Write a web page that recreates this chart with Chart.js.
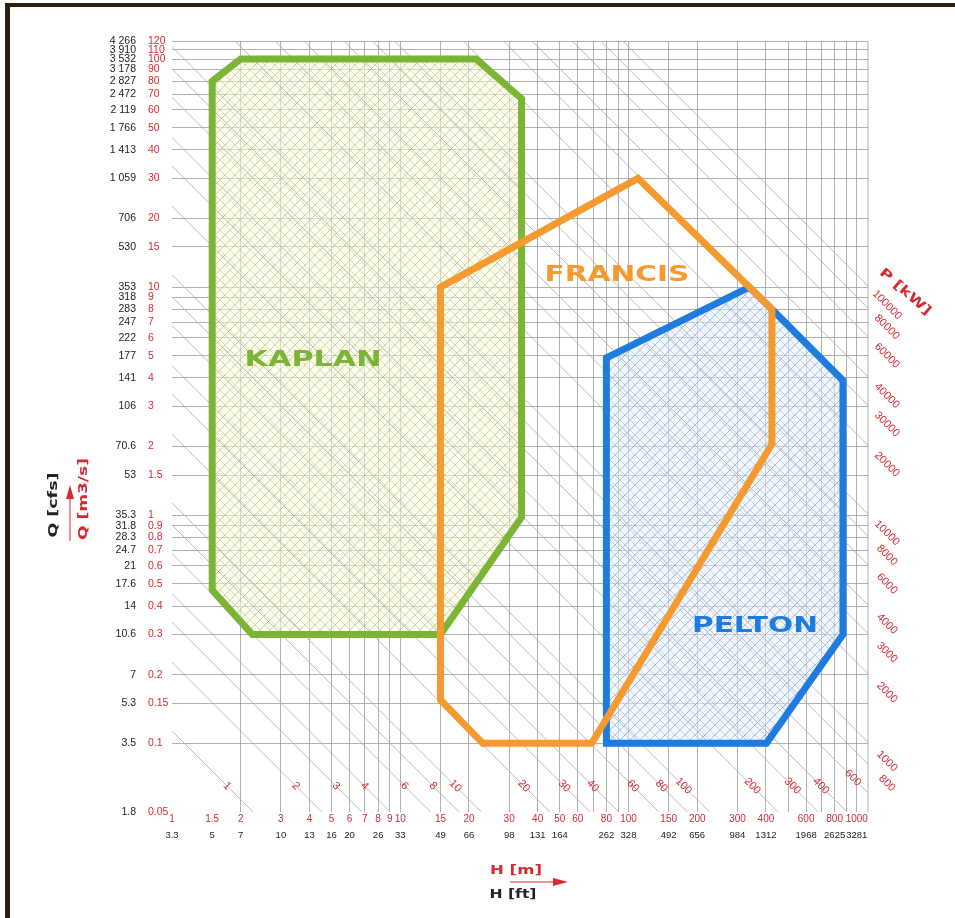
<!DOCTYPE html>
<html>
<head>
<meta charset="utf-8">
<title>Turbine application chart</title>
<script src="https://cdn.jsdelivr.net/npm/chart.js@4.4.0/dist/chart.umd.min.js"></script>
<style>
  html, body { margin: 0; padding: 0; background: #fff; }
  #wrap { position: relative; width: 955px; height: 918px; overflow: hidden; }
  #frame { position: absolute; left: 5px; top: 3px; width: 960px; height: 930px;
           border-top: 4px solid #2d1e12; border-left: 5px solid #2d1e12; }
  #chart { position: absolute; left: 0; top: 0; }
</style>
</head>
<body>
<div id="wrap">
  <div id="frame"></div>
  <canvas id="chart" width="955" height="918"></canvas>
</div>
<script>
// Q [m3/s] ticks and the cfs labels beside them
const qTicks = [120, 110, 100, 90, 80, 70, 60, 50, 40, 30, 20, 15, 10, 9, 8, 7, 6, 5, 4, 3, 2, 1.5,
                1, 0.9, 0.8, 0.7, 0.6, 0.5, 0.4, 0.3, 0.2, 0.15, 0.1, 0.05];
const cfsLabels = ['4 266', '3 910', '3 532', '3 178', '2 827', '2 472', '2 119', '1 766', '1 413', '1 059',
                   '706', '530', '353', '318', '283', '247', '222', '177', '141', '106', '70.6', '53',
                   '35.3', '31.8', '28.3', '24.7', '21', '17.6', '14', '10.6', '7', '5.3', '3.5', '1.8'];

// H [m] ticks, grid lines without label, and the ft row
const hTicks = [1, 1.5, 2, 3, 4, 5, 6, 7, 8, 9, 10, 15, 20, 30, 40, 50, 60, 80, 100, 150, 200, 300, 400, 600, 800, 1000];
const hGridExtra = [70, 90, 500, 700, 900];
const ftTicks = [1, 1.5, 2, 3, 4, 5, 6, 8, 10, 15, 20, 30, 40, 50, 80, 100, 150, 200, 300, 400, 600, 800, 1000];
const ftLabels = ['3.3', '5', '7', '10', '13', '16', '20', '26', '33', '49', '66', '98', '131', '164',
                  '262', '328', '492', '656', '984', '1312', '1968', '2625', '3281'];

// iso power lines P [kW]
const pBottom = [1, 2, 3, 4, 6, 8, 10, 20, 30, 40, 60, 80, 100, 200, 300, 400, 600];
const pRight = [800, 1000, 2000, 3000, 4000, 6000, 8000, 10000, 20000, 30000, 40000, 60000, 80000, 100000];

// turbine ranges (H [m], Q [m3/s])
const kaplanH = [1.5, 1.5, 2, 21.5, 34, 34, 15, 2.25, 1.5];
const kaplanQ = [0.47, 80, 100, 100, 67, 0.98, 0.3, 0.3, 0.47];
const francisH = [15, 110, 425, 425, 69, 23, 15, 15];
const francisQ = [10, 30, 8, 2.05, 0.1, 0.1, 0.155, 10];
const peltonH = [80, 338, 425, 870, 870, 402, 80, 80];
const peltonQ = [4.9, 10, 8, 3.9, 0.3, 0.1, 0.1, 4.9];

const k = 9.81 * 0.9; // P = k * Q * H

const RED = '#d62a30';
const INK = '#222';
const GRID = '#9c9c9c';
const GREEN = '#7cb536';
const ORANGE = '#f49a2e';
const BLUE = '#1e7be0';
const tickFont = { family: 'Liberation Sans', size: 10.5 };
const xFont = { family: 'Liberation Sans', size: 10 };
const ftFont = { family: 'Liberation Sans', size: 9.5 };

const ctx = document.getElementById('chart').getContext('2d');

function hatch(bg, fwd, back) {
  const s = 10;
  const cv = document.createElement('canvas');
  cv.width = s; cv.height = s;
  const g = cv.getContext('2d');
  g.fillStyle = bg;
  g.fillRect(0, 0, s, s);
  g.lineWidth = 0.8;
  g.strokeStyle = fwd;
  g.beginPath();
  g.moveTo(-1, s + 1); g.lineTo(s + 1, -1);
  g.moveTo(-1, 1); g.lineTo(1, -1);
  g.moveTo(s - 1, s + 1); g.lineTo(s + 1, s - 1);
  g.stroke();
  g.strokeStyle = back;
  g.beginPath();
  g.moveTo(-1, -1); g.lineTo(s + 1, s + 1);
  g.moveTo(s - 1, -1); g.lineTo(s + 1, 1);
  g.moveTo(-1, s - 1); g.lineTo(1, s + 1);
  g.stroke();
  return ctx.createPattern(cv, 'repeat');
}

function pts(hs, qs) {
  return hs.map((h, i) => ({ x: h, y: qs[i] }));
}

function outline(label, hs, qs, color, bg) {
  return {
    label: label,
    data: pts(hs, qs),
    showLine: true,
    borderColor: color,
    borderWidth: 7,
    borderCapStyle: 'round',
    pointRadius: 0,
    fill: bg ? 'shape' : false,
    backgroundColor: bg || 'rgba(0,0,0,0)',
    xAxisID: 'x',
    yAxisID: 'y'
  };
}

const pLines = pBottom.concat(pRight).map(p => ({
  label: 'P ' + p,
  data: [{ x: 0.5, y: p / (k * 0.5) }, { x: 3000, y: p / (k * 3000) }],
  showLine: true,
  borderColor: '#a9a9a9',
  borderWidth: 0.8,
  pointRadius: 0,
  fill: false,
  xAxisID: 'x',
  yAxisID: 'y'
}));

const names = [
  { text: 'KAPLAN', h: 4.15, q: 4.8, color: GREEN, width: 137 },
  { text: 'FRANCIS', h: 89, q: 11.3, color: ORANGE, width: 145 },
  { text: 'PELTON', h: 358, q: 0.327, color: BLUE, width: 126 }
];

function drawText(c, text, x, y, angle, font, color, width) {
  c.save();
  c.translate(x, y);
  c.rotate(angle);
  c.font = font;
  c.fillStyle = color;
  c.textAlign = 'center';
  c.textBaseline = 'middle';
  if (width) {
    c.scale(width / c.measureText(text).width, 1);
  }
  c.fillText(text, 0, 0);
  c.restore();
}

const overlay = {
  id: 'overlay',
  beforeDatasetsDraw(chart) {
    const a = chart.chartArea, c = chart.ctx;
    c.save();
    c.strokeStyle = GRID;
    c.lineWidth = 0.8;
    c.beginPath();
    c.moveTo(a.right, a.top);
    c.lineTo(a.right, a.bottom);
    c.stroke();
    c.restore();
  },
  afterDraw(chart) {
    const a = chart.chartArea, c = chart.ctx;
    const xs = chart.scales.x, ys = chart.scales.y;
    const pFont = '11px "Liberation Sans"';

    // P labels along the bottom edge
    pBottom.forEach(p => {
      let y = a.bottom - 26;
      let h = p / (k * ys.getValueForPixel(y));
      let x = xs.getPixelForValue(h);
      if (x > a.right - 15) {
        x = a.right - 15;
        y = ys.getPixelForValue(p / (k * xs.getValueForPixel(x)));
      }
      drawText(c, String(p), x, y, Math.PI / 4, pFont, RED);
    });
    // P labels beyond the right edge
    pRight.forEach(p => {
      const x = a.right + 19;
      const y = ys.getPixelForValue(p / (k * xs.getValueForPixel(x)));
      drawText(c, String(p), x, y, Math.PI / 4, pFont, RED);
    });
    drawText(c, 'P [kW]', 905, 292, 0.72, 'bold 13px "DejaVu Sans"', RED, 64);

    // turbine names
    names.forEach(n => {
      drawText(c, n.text, xs.getPixelForValue(n.h), ys.getPixelForValue(n.q), 0,
               'bold 22px "DejaVu Sans"', n.color, n.width);
    });

    // axis titles
    drawText(c, 'H [m]', 516, 871, 0, 'bold 13px "DejaVu Sans"', RED, 52);
    drawText(c, 'H [ft]', 513, 895, 0, 'bold 13px "DejaVu Sans"', INK, 47);
    drawText(c, 'Q [cfs]', 54, 505, -Math.PI / 2, 'bold 13px "DejaVu Sans"', INK, 65);
    drawText(c, 'Q [m3/s]', 84, 499, -Math.PI / 2, 'bold 13px "DejaVu Sans"', RED, 82);

    c.save();
    c.strokeStyle = RED;
    c.fillStyle = RED;
    c.lineWidth = 1;
    c.beginPath();
    c.moveTo(510, 882); c.lineTo(556, 882);
    c.moveTo(70, 541); c.lineTo(70, 496);
    c.stroke();
    c.beginPath();
    c.moveTo(553, 878); c.lineTo(568, 882); c.lineTo(553, 886); c.closePath();
    c.moveTo(66, 499); c.lineTo(70, 485); c.lineTo(74, 499); c.closePath();
    c.fill();
    c.restore();
  }
};

new Chart(ctx, {
  type: 'scatter',
  data: {
    datasets: [
      outline('Francis', francisH, francisQ, ORANGE, null),
      outline('Pelton', peltonH, peltonQ, BLUE,
              hatch('rgba(232,241,252,0.55)', 'rgba(70,125,200,0.6)', 'rgba(110,145,195,0.45)')),
      outline('Kaplan', kaplanH, kaplanQ, GREEN,
              hatch('rgba(250,250,226,0.55)', 'rgba(170,188,70,0.75)', 'rgba(140,150,115,0.4)'))
    ].concat(pLines)
  },
  options: {
    responsive: false,
    animation: false,
    events: [],
    layout: { padding: { left: 0, right: 87, top: 41, bottom: 72 } },
    plugins: {
      legend: { display: false },
      tooltip: { enabled: false },
      filler: { drawTime: 'beforeDatasetsDraw' }
    },
    scales: {
      x: {
        type: 'logarithmic', position: 'bottom', weight: 1, min: 1, max: 1120,
        afterBuildTicks: ax => {
          ax.ticks = hTicks.concat(hGridExtra).sort((p, q) => p - q).map(v => ({ value: v }));
        },
        afterFit: ax => { ax.height = 17; },
        ticks: {
          autoSkip: false, maxRotation: 0, minRotation: 0, padding: 1,
          color: RED, font: xFont,
          callback: v => hTicks.includes(v) ? String(v) : ''
        },
        grid: {
          drawTicks: false, lineWidth: 0.8,
          color: c => (c.tick && c.tick.value < 2) ? 'rgba(0,0,0,0)' : GRID
        },
        border: { display: false }
      },
      xFt: {
        type: 'logarithmic', position: 'bottom', weight: 2, min: 1, max: 1120,
        afterBuildTicks: ax => { ax.ticks = ftTicks.map(v => ({ value: v })); },
        afterFit: ax => { ax.height = 17; },
        ticks: {
          autoSkip: false, maxRotation: 0, minRotation: 0, padding: 1,
          color: INK, font: ftFont,
          callback: v => ftLabels[ftTicks.indexOf(v)]
        },
        grid: { display: false, drawTicks: false },
        border: { display: false }
      },
      y: {
        type: 'logarithmic', position: 'left', weight: 1, min: 0.05, max: 120,
        afterBuildTicks: ax => { ax.ticks = qTicks.map(v => ({ value: v })); },
        afterFit: ax => { ax.width = 24; },
        ticks: {
          autoSkip: false, crossAlign: 'far', color: RED, font: tickFont,
          callback: v => String(v)
        },
        grid: {
          drawTicks: false, lineWidth: 0.8,
          color: c => (c.tick && c.tick.value === 0.05) ? 'rgba(0,0,0,0)' : GRID
        },
        border: { display: false }
      },
      yCfs: {
        type: 'logarithmic', position: 'left', weight: 2, min: 0.05, max: 120,
        afterBuildTicks: ax => { ax.ticks = qTicks.map(v => ({ value: v })); },
        afterFit: ax => { ax.width = 148; },
        ticks: {
          autoSkip: false, crossAlign: 'near', padding: 12, color: INK, font: tickFont,
          callback: v => cfsLabels[qTicks.indexOf(v)]
        },
        grid: { display: false, drawTicks: false },
        border: { display: false }
      }
    }
  },
  plugins: [overlay]
});
</script>
</body>
</html>
